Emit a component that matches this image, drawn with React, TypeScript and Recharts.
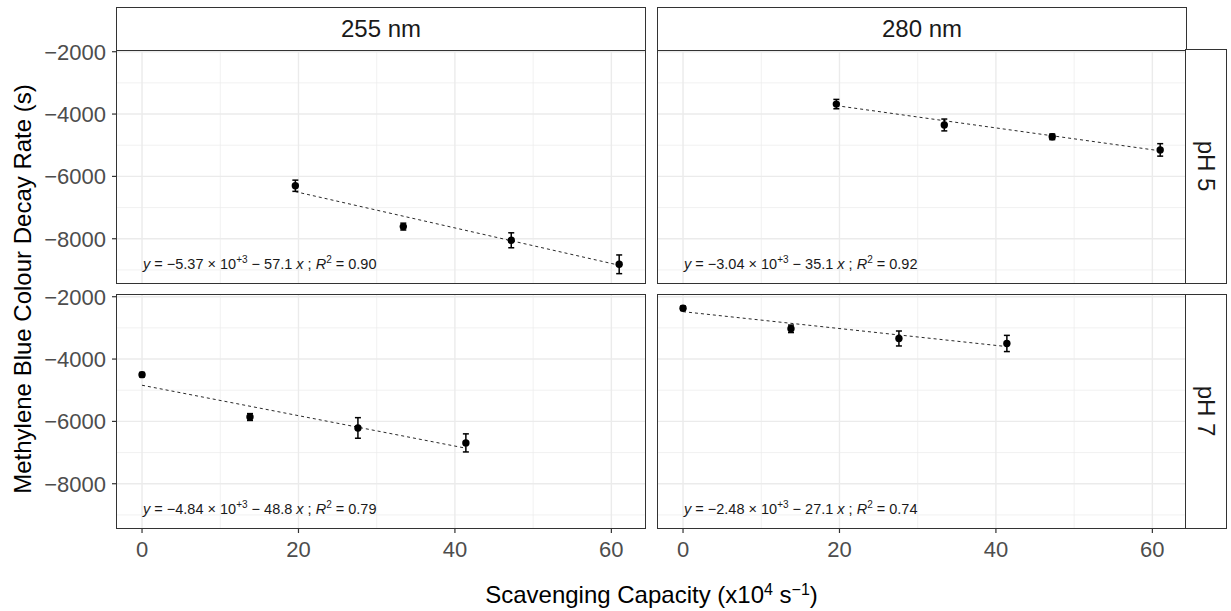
import React from "react";
import { ComposedChart, Scatter, Line, XAxis, YAxis, ErrorBar, ReferenceLine } from "recharts";

// scavenging capacity (x10^4 s^-1) at each pH
const capacityPH5 = [19.6, 33.4, 47.2, 61.0];
const capacityPH7 = [0, 13.8, 27.6, 41.4];

// methylene blue colour decay rate (s) and error bar half-widths
const rate255pH5 = [-6300, -7610, -8050, -8820];
const err255pH5 = [180, 110, 240, 300];
const rate280pH5 = [-3680, -4350, -4730, -5150];
const err280pH5 = [150, 190, 90, 200];
const rate255pH7 = [-4500, -5860, -6210, -6690];
const err255pH7 = [70, 110, 330, 290];
const rate280pH7 = [-2370, -3030, -3340, -3500];
const err280pH7 = [70, 120, 240, 260];

// dashed fit lines: [x, y] end points
const fit255pH5 = [[19.6, -6490], [61.0, -8850]];
const fit280pH5 = [[19.6, -3730], [61.0, -5180]];
const fit255pH7 = [[0, -4840], [41.4, -6860]];
const fit280pH7 = [[0, -2480], [41.4, -3600]];

// equation labels: intercept (x10^3), slope, R^2
const eq255pH5 = ["5.37", "57.1", "0.90"];
const eq280pH5 = ["3.04", "35.1", "0.92"];
const eq255pH7 = ["4.84", "48.8", "0.79"];
const eq280pH7 = ["2.48", "27.1", "0.74"];

const wavelengths = ["255 nm", "280 nm"];
const phLabels = ["pH 5", "pH 7"];
const xTicks = [0, 20, 40, 60];
const xMinor = [10, 30, 50];
const yTicks = [-8000, -6000, -4000, -2000];
const yMinor = [-9000, -7000, -5000, -3000];
const eqAnchor = { x: 0, y: -8970 };

const FONT = "'Liberation Sans', Arial, sans-serif";
const GRID = "#ebebeb";
const DARK = "#333333";
const PW = 528;
const PH = 233;
const YW = 100;
const XH = 45;
const M = 12;
const X_DOMAIN = [-3.2, 64.3];
const Y_DOMAIN = [-9420, -1945];

const minus = (v: number) => (v < 0 ? "\u2212" + Math.abs(v) : String(v));

const Equation = ({ cx, cy, eq }: any) => (
  <text x={cx + 1} y={cy} fontSize={14.5} fill="#1a1a1a" fontFamily={FONT} style={{ whiteSpace: "pre" }}>
    <tspan fontStyle="italic">y</tspan>
    <tspan>{` = \u2212${eq[0]} \u00d7 10`}</tspan>
    <tspan dy={-6} fontSize={10}>+3</tspan>
    <tspan dy={6}>{` \u2212 ${eq[1]} `}</tspan>
    <tspan fontStyle="italic">x</tspan>
    <tspan>{" ; "}</tspan>
    <tspan fontStyle="italic">R</tspan>
    <tspan dy={-6} fontSize={10}>2</tspan>
    <tspan dy={6}>{` = ${eq[2]}`}</tspan>
  </text>
);

const Dot = ({ cx, cy }: any) => <circle cx={cx} cy={cy} r={3.7} fill="#000" />;

function Panel({ xs, ys, errs, fit, eq, left, top, showX, showY }: any) {
  const pts = xs.map((x: number, i: number) => ({ x, y: ys[i], err: errs[i] }));
  const line = fit.map(([x, y]: number[]) => ({ x, y }));
  const yw = showY ? YW : 0;
  return (
    <div style={{ position: "absolute", left: left - yw, top: top - M }}>
      <ComposedChart
        width={PW + yw}
        height={PH + 2 * M + (showX ? XH : 0)}
        margin={{ top: M, right: 0, bottom: M, left: 0 }}
      >
        <XAxis
          type="number"
          dataKey="x"
          domain={X_DOMAIN}
          ticks={xTicks}
          interval={0}
          hide={!showX}
          height={XH}
          axisLine={false}
          tickSize={5}
          tickMargin={8}
          tickLine={{ stroke: DARK, strokeWidth: 1.2 }}
          tick={{ fill: "#4d4d4d", fontSize: 22, fontFamily: FONT }}
          allowDataOverflow
        />
        <YAxis
          type="number"
          dataKey="y"
          domain={Y_DOMAIN}
          ticks={yTicks}
          interval={0}
          hide={!showY}
          width={YW}
          axisLine={false}
          tickSize={5}
          tickMargin={6}
          tickLine={{ stroke: DARK, strokeWidth: 1.2 }}
          tick={{ fill: "#4d4d4d", fontSize: 22, fontFamily: FONT }}
          tickFormatter={minus}
          allowDataOverflow
        />
        {xMinor.map((v) => <ReferenceLine key={"xm" + v} x={v} stroke={GRID} strokeWidth={0.7} />)}
        {yMinor.map((v) => <ReferenceLine key={"ym" + v} y={v} stroke={GRID} strokeWidth={0.7} />)}
        {xTicks.map((v) => <ReferenceLine key={"x" + v} x={v} stroke={GRID} strokeWidth={1.4} />)}
        {yTicks.map((v) => <ReferenceLine key={"y" + v} y={v} stroke={GRID} strokeWidth={1.4} />)}
        <Line
          data={line}
          dataKey="y"
          stroke="#111"
          strokeWidth={0.9}
          strokeDasharray="3 3"
          dot={false}
          activeDot={false}
          isAnimationActive={false}
        />
        <Scatter data={pts} dataKey="y" shape={<Dot />} isAnimationActive={false}>
          <ErrorBar dataKey="err" direction="y" width={3} stroke="#000" strokeWidth={1.5} />
        </Scatter>
        <Scatter data={[eqAnchor]} dataKey="y" shape={(p: any) => <Equation cx={p.cx} cy={p.cy} eq={eq} />} isAnimationActive={false} />
      </ComposedChart>
      <div
        style={{
          position: "absolute",
          left: yw - 0.6,
          top: M - 0.6,
          width: PW + 1.2,
          height: PH + 1.2,
          border: `1.3px solid ${DARK}`,
          boxSizing: "border-box",
          pointerEvents: "none",
        }}
      />
    </div>
  );
}

const stripBase: React.CSSProperties = {
  position: "absolute",
  border: `1.3px solid ${DARK}`,
  boxSizing: "border-box",
  background: "#fff",
  display: "flex",
  alignItems: "center",
  justifyContent: "center",
  fontFamily: FONT,
  fontSize: 24,
  color: "#1a1a1a",
};

export default function App() {
  const colLeft = [117, 658];
  const rowTop = [50, 295];
  return (
    <div style={{ position: "absolute", left: 0, top: 0, width: 1231, height: 611, background: "#fff", overflow: "hidden" }}>
      <Panel xs={capacityPH5} ys={rate255pH5} errs={err255pH5} fit={fit255pH5} eq={eq255pH5} left={colLeft[0]} top={rowTop[0]} showY />
      <Panel xs={capacityPH5} ys={rate280pH5} errs={err280pH5} fit={fit280pH5} eq={eq280pH5} left={colLeft[1]} top={rowTop[0]} />
      <Panel xs={capacityPH7} ys={rate255pH7} errs={err255pH7} fit={fit255pH7} eq={eq255pH7} left={colLeft[0]} top={rowTop[1]} showX showY />
      <Panel xs={capacityPH7} ys={rate280pH7} errs={err280pH7} fit={fit280pH7} eq={eq280pH7} left={colLeft[1]} top={rowTop[1]} showX />
      {wavelengths.map((w, i) => (
        <div key={w} style={{ ...stripBase, left: colLeft[i] - 0.6, top: 7, width: PW + 1.2, height: 43.6 }}>
          {w}
        </div>
      ))}
      {phLabels.map((p, i) => (
        <div key={p} style={{ ...stripBase, left: 1185.4, top: rowTop[i] - 0.6, width: 42, height: PH + 1.2 }}>
          <span style={{ transform: "rotate(90deg)", whiteSpace: "nowrap" }}>{p}</span>
        </div>
      ))}
      <div
        style={{
          position: "absolute",
          left: 23 - 250,
          top: 288.5 - 12,
          width: 500,
          height: 24,
          lineHeight: "24px",
          textAlign: "center",
          transform: "rotate(-90deg)",
          fontFamily: FONT,
          fontSize: 24,
          color: "#000",
          whiteSpace: "nowrap",
        }}
      >
        Methylene Blue Colour Decay Rate (s)
      </div>
      <div
        style={{
          position: "absolute",
          left: 117,
          top: 583,
          width: 1069,
          height: 24,
          lineHeight: "24px",
          textAlign: "center",
          fontFamily: FONT,
          fontSize: 24,
          color: "#000",
          whiteSpace: "nowrap",
        }}
      >
        Scavenging Capacity (x10<sup style={{ fontSize: 16, verticalAlign: "8px", lineHeight: 0 }}>4</sup> s<sup style={{ fontSize: 16, verticalAlign: "8px", lineHeight: 0 }}>{"\u22121"}</sup>)
      </div>
    </div>
  );
}
